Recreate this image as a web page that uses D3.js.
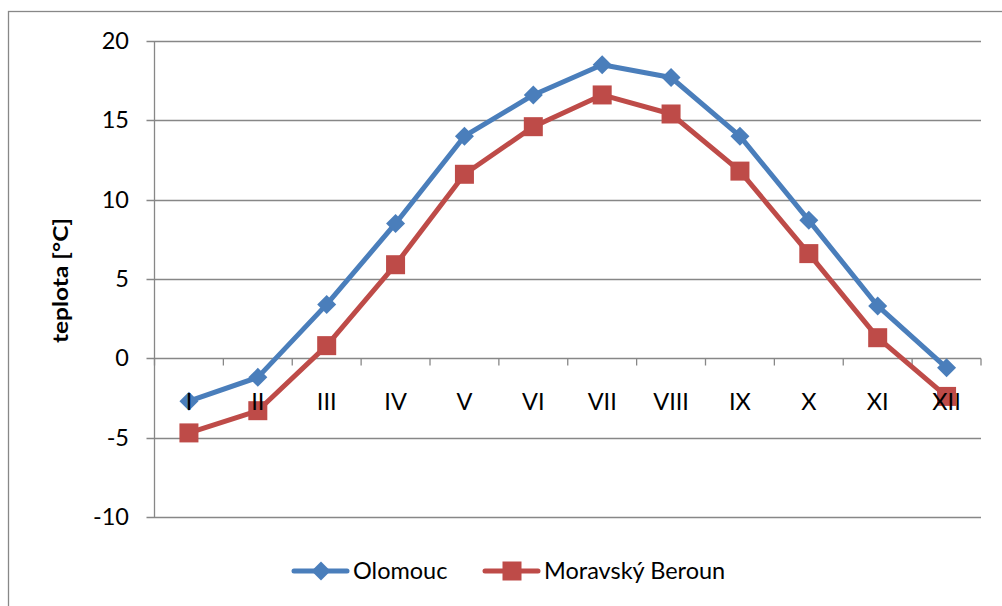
<!DOCTYPE html>
<html><head><meta charset="utf-8">
<script src="https://cdn.jsdelivr.net/npm/d3@7"></script>
<style>body{margin:0;background:#fff}svg{display:block}</style>
</head><body>
<script>
const months = ["I","II","III","IV","V","VI","VII","VIII","IX","X","XI","XII"];
const olomouc = [-2.7,-1.2,3.4,8.5,14.0,16.6,18.5,17.7,14.0,8.7,3.3,-0.6];
const beroun = [-4.7,-3.3,0.8,5.9,11.6,14.6,16.6,15.4,11.8,6.6,1.3,-2.4];
const yTicks = [-10,-5,0,5,10,15,20];
const seriesNames = ["Olomouc","Moravský Beroun"];

const W=1002,H=606;
const font="Lato, 'Open Sans', sans-serif";
const fs=23.5;
const svg=d3.select("body").append("svg").attr("width",W).attr("height",H);
svg.append("rect").attr("x",8.5).attr("y",11.5).attr("width",W).attr("height",H).attr("fill","#fff").attr("stroke","#888").attr("stroke-width",1.3);

const L=154.5,R=981,T=41,B=517;
const x=d3.scaleBand().domain(months).range([L,R]);
const y=d3.scaleLinear().domain([-10,20]).range([B,T]);
const grey="#878787";

// gridlines
svg.append("g").selectAll("line").data(yTicks).join("line")
  .attr("x1",L-8).attr("x2",R).attr("y1",d=>Math.round(y(d))+0.5).attr("y2",d=>Math.round(y(d))+0.5)
  .attr("stroke",grey).attr("stroke-width",1.3);
// y axis line
svg.append("line").attr("x1",L).attr("x2",L).attr("y1",T).attr("y2",B).attr("stroke",grey).attr("stroke-width",1.3);
// y labels
svg.append("g").selectAll("text").data(yTicks).join("text")
  .attr("x",129).attr("y",d=>y(d)).attr("dy","0.34em").attr("text-anchor","end")
  .attr("font-family",font).attr("font-size",fs).attr("fill","#000").text(d=>d);
// x axis ticks at zero
const y0=Math.round(y(0))+0.5;
const bounds=months.map(m=>x(m)).concat([R]);
svg.append("g").selectAll("line").data(bounds).join("line")
  .attr("x1",d=>d).attr("x2",d=>d).attr("y1",y0).attr("y2",y0+7).attr("stroke",grey).attr("stroke-width",1.3);

// y title
svg.append("text").attr("transform","translate(68,280.5) rotate(-90)").attr("text-anchor","middle")
  .attr("font-family",font).attr("font-weight","bold").attr("font-size",21)
  .attr("textLength",125).attr("lengthAdjust","spacingAndGlyphs").text("teplota [°C]");

const blue="#4A7EBB", red="#BE4B48";
const cx=(d,i)=>x(months[i])+x.bandwidth()/2;
const line=d3.line().x((d,i)=>cx(d,i)).y(d=>y(d));

function series(data,color,shape){
  svg.append("path").datum(data).attr("d",line).attr("fill","none").attr("stroke",color).attr("stroke-width",5).attr("stroke-linejoin","round").attr("stroke-linecap","round");
  const g=svg.append("g");
  data.forEach((d,i)=>drawMarker(g,cx(d,i),y(d),color,shape));
}
function drawMarker(g,px,py,color,shape){
  if(shape==="diamond"){
    const s=9.5;
    g.append("path").attr("d",`M${px},${py-s}L${px+s},${py}L${px},${py+s}L${px-s},${py}Z`).attr("fill",color);
  } else {
    const s=19;
    g.append("rect").attr("x",px-s/2).attr("y",py-s/2).attr("width",s).attr("height",s).attr("fill",color);
  }
}
series(olomouc,blue,"diamond");
series(beroun,red,"square");

// x labels (drawn above the series, as in the reference)
svg.append("g").selectAll("text").data(months).join("text")
  .attr("x",d=>x(d)+x.bandwidth()/2).attr("y",y0+51).attr("text-anchor","middle")
  .attr("font-family",font).attr("font-size",fs).attr("fill","#000").text(d=>d);

// legend
const lg=svg.append("g");
const legendItems=[{name:seriesNames[0],color:blue,shape:"diamond",x0:294},{name:seriesNames[1],color:red,shape:"square",x0:485}];
legendItems.forEach(it=>{
  lg.append("line").attr("x1",it.x0).attr("x2",it.x0+53).attr("y1",571).attr("y2",571).attr("stroke",it.color).attr("stroke-width",5).attr("stroke-linecap","round");
  drawMarker(lg,it.x0+27,571,it.color,it.shape);
  lg.append("text").attr("x",it.x0+59).attr("y",571).attr("dy","0.34em").attr("font-family",font).attr("font-size",fs).text(it.name);
});
</script>
</body></html>
